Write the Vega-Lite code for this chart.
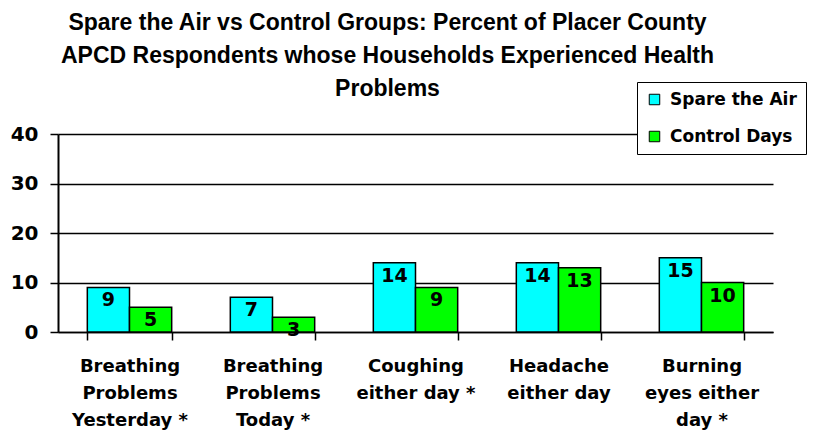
{
  "$schema": "https://vega.github.io/schema/vega-lite/v6.json",
  "autosize": "none",
  "width": 715,
  "height": 198,
  "padding": {"left": 58, "top": 134, "right": 42, "bottom": 101},
  "background": "white",
  "title": {
    "text": ["Spare the Air vs Control Groups:  Percent of Placer County ", "APCD Respondents whose Households Experienced Health", "Problems"],
    "font": "Liberation Sans",
    "fontSize": 23,
    "fontWeight": "bold",
    "color": "black",
    "anchor": "middle",
    "dx": -28,
    "lineHeight": 33,
    "offset": -19
  },
  "data": {
    "values": [
      {"cat": "Breathing|Problems|Yesterday *", "group": "Spare the Air", "value": 9},
      {"cat": "Breathing|Problems|Yesterday *", "group": "Control Days", "value": 5},
      {"cat": "Breathing|Problems|Today *", "group": "Spare the Air", "value": 7},
      {"cat": "Breathing|Problems|Today *", "group": "Control Days", "value": 3},
      {"cat": "Coughing|either day *", "group": "Spare the Air", "value": 14},
      {"cat": "Coughing|either day *", "group": "Control Days", "value": 9},
      {"cat": "Headache|either day", "group": "Spare the Air", "value": 14},
      {"cat": "Headache|either day", "group": "Control Days", "value": 13},
      {"cat": "Burning|eyes either|day *", "group": "Spare the Air", "value": 15},
      {"cat": "Burning|eyes either|day *", "group": "Control Days", "value": 10}
    ]
  },
  "encoding": {
    "x": {
      "field": "cat",
      "type": "nominal",
      "sort": null,
      "scale": {"paddingInner": 0.41, "paddingOuter": 0.205},
      "axis": {
        "title": null,
        "labelAngle": 0,
        "labelExpr": "split(datum.label, '|')",
        "labelFont": "DejaVu Sans",
        "labelFontSize": 18,
        "labelFontWeight": "bold",
        "labelColor": "black",
        "labelLineHeight": 27,
        "labelPadding": 17,
        "labelBaseline": "top",
        "tickBand": "extent",
        "tickColor": "black",
        "tickSize": 8,
        "tickWidth": 1.5,
        "domainColor": "black",
        "domainWidth": 1.5,
        "grid": false
      }
    },
    "xOffset": {"field": "group", "type": "nominal", "sort": ["Spare the Air", "Control Days"], "scale": {"paddingInner": 0, "paddingOuter": 0}},
    "y": {
      "field": "value",
      "type": "quantitative",
      "scale": {"domain": [0, 40]},
      "axis": {
        "title": null,
        "values": [0, 10, 20, 30, 40],
        "labelFont": "DejaVu Sans",
        "labelFontSize": 20,
        "labelFontWeight": "bold",
        "labelColor": "black",
        "labelPadding": 12,
        "tickColor": "black",
        "tickSize": 8,
        "tickWidth": 1.5,
        "domainColor": "black",
        "domainWidth": 2,
        "grid": true,
        "gridColor": "black",
        "gridWidth": 1.5,
        "gridOpacity": 1
      }
    }
  },
  "layer": [
    {
      "mark": {"type": "bar", "stroke": "black", "strokeWidth": 1.5},
      "encoding": {
        "color": {
          "field": "group",
          "type": "nominal",
          "scale": {"domain": ["Spare the Air", "Control Days"], "range": ["#00FFFF", "#00FF00"]},
          "legend": {
            "title": null,
            "orient": "none",
            "legendX": 579,
            "legendY": -52,
            "direction": "vertical",
            "fillColor": "white",
            "strokeColor": "black",
            "padding": 9,
            "symbolType": "square",
            "symbolSize": 110,
            "symbolStrokeColor": "black",
            "symbolStrokeWidth": 1,
            "labelFont": "DejaVu Sans",
            "labelFontSize": 17,
            "labelFontWeight": "bold",
            "labelColor": "black",
            "labelLimit": 300,
            "rowPadding": 19,
            "labelOffset": 7
          }
        }
      }
    },
    {
      "mark": {"type": "text", "baseline": "middle", "dy": 13, "font": "DejaVu Sans", "fontSize": 19, "fontWeight": "bold", "color": "black"},
      "encoding": {"text": {"field": "value", "type": "quantitative"}}
    }
  ],
  "config": {"view": {"stroke": null}}
}
